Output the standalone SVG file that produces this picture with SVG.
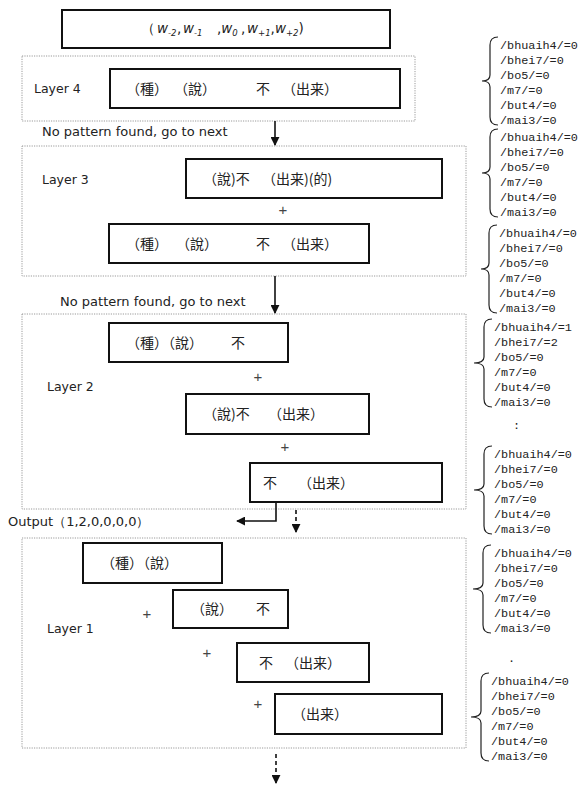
<svg xmlns="http://www.w3.org/2000/svg" width="578" height="785" viewBox="0 0 578 785">
<style>
.bg{fill:#fff}
.layer{fill:none;stroke:#9a9a9a;stroke-width:1;stroke-dasharray:1.2 1.2}
.box{fill:#fff;stroke:#111;stroke-width:2}
.zh{font-family:"Noto Sans CJK TC","Noto Sans CJK SC",sans-serif;font-size:14px;fill:#222}
.lbl{font-family:"DejaVu Sans",sans-serif;font-size:12.5px;fill:#222}
.msg{font-family:"DejaVu Sans",sans-serif;font-size:13px;fill:#222}
.top{font-family:"DejaVu Sans",sans-serif;font-size:13.5px;fill:#222}
.it{font-style:italic}
.sub{font-size:8.5px}
.plus{font-family:"Liberation Sans",sans-serif;font-size:15px;fill:#444;text-anchor:middle}
.lst{font-family:"Liberation Mono",monospace;font-size:11.8px;fill:#222}
.brace{fill:none;stroke:#222;stroke-width:1.2}
.conn{fill:none;stroke:#111;stroke-width:1.6}
.dash{fill:none;stroke:#111;stroke-width:1.6;stroke-dasharray:4 3}
</style>
<defs>
<marker id="ahb" viewBox="0 0 10 10" refX="9" refY="5" markerWidth="9" markerHeight="9" markerUnits="userSpaceOnUse" orient="auto">
<path d="M0,0 L10,5 L0,10 z" fill="#111"/>
</marker>
</defs>
<rect class="bg" x="0" y="0" width="578" height="785"/>

<g id="input">
<rect class="box" x="62" y="10" width="328" height="38"/>
<text class="top" y="33"><tspan x="141">（</tspan><tspan x="157" class="it">w</tspan><tspan class="sub it" dy="3">-2</tspan><tspan x="177" dy="-3">,</tspan><tspan x="183" class="it">w</tspan><tspan class="sub it" dy="3">-1</tspan><tspan x="217" dy="-3">,</tspan><tspan class="it">w</tspan><tspan class="sub it" dy="3">0</tspan><tspan x="241" dy="-3">,</tspan><tspan x="247" class="it">w</tspan><tspan class="sub it" dy="3">+1</tspan><tspan dy="-3">,</tspan><tspan class="it">w</tspan><tspan class="sub it" dy="3">+2</tspan><tspan dy="-3">)</tspan></text>
</g>

<g id="layer4">
<rect class="layer" x="22" y="56" width="393" height="65"/>
<text class="lbl" x="34" y="93">Layer 4</text>
<rect class="box" x="110" y="69" width="290" height="39"/>
<text class="zh" y="94"><tspan x="126">（種）</tspan><tspan x="174">（說）</tspan><tspan x="256">不</tspan><tspan x="282">（出来）</tspan></text>
</g>

<g id="layer3">
<rect class="layer" x="22" y="146" width="444" height="130"/>
<text class="lbl" x="42" y="184">Layer 3</text>
<rect class="box" x="186" y="159" width="256" height="39"/>
<text class="zh" y="184"><tspan x="203">（說)不</tspan><tspan x="262">（出来)(的)</tspan></text>
<text class="plus" x="283" y="215">+</text>
<rect class="box" x="109" y="224" width="260" height="39"/>
<text class="zh" y="249"><tspan x="126">（種）</tspan><tspan x="176">（說）</tspan><tspan x="256">不</tspan><tspan x="282">（出来）</tspan></text>
</g>

<g id="layer2">
<rect class="layer" x="22" y="314" width="444" height="195"/>
<text class="lbl" x="47" y="391">Layer 2</text>
<rect class="box" x="109" y="323" width="179" height="39"/>
<text class="zh" y="348"><tspan x="126">（種）（說）</tspan><tspan x="231">不</tspan></text>
<text class="plus" x="258" y="382">+</text>
<rect class="box" x="186" y="394" width="183" height="40"/>
<text class="zh" y="419"><tspan x="203">（說)不</tspan><tspan x="268">（出来）</tspan></text>
<text class="plus" x="285" y="452">+</text>
<rect class="box" x="250" y="463" width="192" height="39"/>
<text class="zh" y="488"><tspan x="263">不</tspan><tspan x="298">（出来）</tspan></text>
</g>

<g id="output">
<text class="msg" x="8" y="526">Output（1,2,0,0,0,0）</text>
</g>

<g id="layer1">
<rect class="layer" x="22" y="538" width="444" height="210"/>
<text class="lbl" x="47" y="633">Layer 1</text>
<rect class="box" x="83" y="543" width="139" height="40"/>
<text class="zh" y="568"><tspan x="101">（種）（說）</tspan></text>
<rect class="box" x="173" y="590" width="115" height="38"/>
<text class="zh" y="614"><tspan x="191">（說）</tspan><tspan x="256">不</tspan></text>
<text class="plus" x="147" y="619">+</text>
<rect class="box" x="237" y="643" width="132" height="39"/>
<text class="zh" y="668"><tspan x="259">不</tspan><tspan x="285">（出来）</tspan></text>
<text class="plus" x="207" y="658">+</text>
<rect class="box" x="275" y="694" width="167" height="40"/>
<text class="zh" y="719"><tspan x="292">（出来）</tspan></text>
<text class="plus" x="258" y="709">+</text>
</g>

<g id="messages">
<text class="msg" x="42" y="136">No pattern found, go to next</text>
<text class="msg" x="60" y="306">No pattern found, go to next</text>
</g>

<g id="connectors">
<line class="conn" x1="275" y1="121" x2="275" y2="145" marker-end="url(#ahb)"/>
<line class="conn" x1="275" y1="276" x2="275" y2="313" marker-end="url(#ahb)"/>
<polyline class="conn" points="276,502 276,521 237,521" marker-end="url(#ahb)"/>
<line class="dash" x1="296" y1="510" x2="296" y2="532" marker-end="url(#ahb)"/>
<line class="dash" x1="276" y1="754" x2="276" y2="783" marker-end="url(#ahb)"/>
</g>

<g id="lists">
<path class="brace" d="M498,37 Q490,37 490,45 L490,75 Q490,81 482,81 Q490,81 490,87 L490,117 Q490,125 498,125"/>
<text class="lst"><tspan x="500" y="49">/bhuaih4/=0</tspan><tspan x="500" dy="15">/bhei7/=0</tspan><tspan x="500" dy="15">/bo5/=0</tspan><tspan x="500" dy="15">/m7/=0</tspan><tspan x="500" dy="15">/but4/=0</tspan><tspan x="500" dy="15">/mai3/=0</tspan></text>

<path class="brace" d="M498,129 Q490,129 490,137 L490,167 Q490,173 482,173 Q490,173 490,179 L490,209 Q490,217 498,217"/>
<text class="lst"><tspan x="500" y="141">/bhuaih4/=0</tspan><tspan x="500" dy="15">/bhei7/=0</tspan><tspan x="500" dy="15">/bo5/=0</tspan><tspan x="500" dy="15">/m7/=0</tspan><tspan x="500" dy="15">/but4/=0</tspan><tspan x="500" dy="15">/mai3/=0</tspan></text>

<path class="brace" d="M497,225 Q489,225 489,233 L489,263 Q489,269 481,269 Q489,269 489,275 L489,305 Q489,313 497,313"/>
<text class="lst"><tspan x="499" y="237">/bhuaih4/=0</tspan><tspan x="499" dy="15">/bhei7/=0</tspan><tspan x="499" dy="15">/bo5/=0</tspan><tspan x="499" dy="15">/m7/=0</tspan><tspan x="499" dy="15">/but4/=0</tspan><tspan x="499" dy="15">/mai3/=0</tspan></text>

<path class="brace" d="M492,319 Q484,319 484,327 L484,357 Q484,363 474,363 Q484,363 484,369 L484,399 Q484,407 492,407"/>
<text class="lst"><tspan x="494" y="331">/bhuaih4/=1</tspan><tspan x="494" dy="15">/bhei7/=2</tspan><tspan x="494" dy="15">/bo5/=0</tspan><tspan x="494" dy="15">/m7/=0</tspan><tspan x="494" dy="15">/but4/=0</tspan><tspan x="494" dy="15">/mai3/=0</tspan></text>

<text class="lst" x="513" y="429">:</text>

<path class="brace" d="M492,446 Q484,446 484,454 L484,484 Q484,490 474,490 Q484,490 484,496 L484,526 Q484,534 492,534"/>
<text class="lst"><tspan x="494" y="458">/bhuaih4/=0</tspan><tspan x="494" dy="15">/bhei7/=0</tspan><tspan x="494" dy="15">/bo5/=0</tspan><tspan x="494" dy="15">/m7/=0</tspan><tspan x="494" dy="15">/but4/=0</tspan><tspan x="494" dy="15">/mai3/=0</tspan></text>

<path class="brace" d="M491,545 Q483,545 483,553 L483,583 Q483,589 473,589 Q483,589 483,595 L483,625 Q483,633 491,633"/>
<text class="lst"><tspan x="494" y="557">/bhuaih4/=0</tspan><tspan x="494" dy="15">/bhei7/=0</tspan><tspan x="494" dy="15">/bo5/=0</tspan><tspan x="494" dy="15">/m7/=0</tspan><tspan x="494" dy="15">/but4/=0</tspan><tspan x="494" dy="15">/mai3/=0</tspan></text>

<text class="lst" x="508" y="662">.</text>

<path class="brace" d="M489,673 Q481,673 481,681 L481,711 Q481,717 471,717 Q481,717 481,723 L481,753 Q481,761 489,761"/>
<text class="lst"><tspan x="491" y="685">/bhuaih4/=0</tspan><tspan x="491" dy="15">/bhei7/=0</tspan><tspan x="491" dy="15">/bo5/=0</tspan><tspan x="491" dy="15">/m7/=0</tspan><tspan x="491" dy="15">/but4/=0</tspan><tspan x="491" dy="15">/mai3/=0</tspan></text>
</g>
</svg>
